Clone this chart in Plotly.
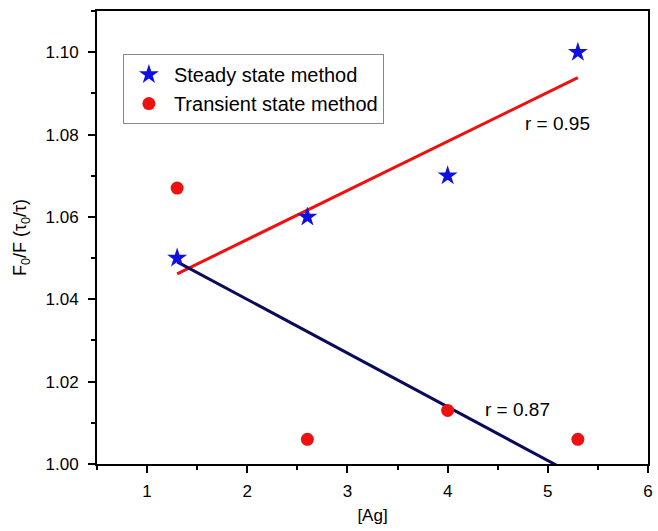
import numpy as np
import plotly.graph_objects as go

ag = [1.3, 2.6, 4.0, 5.3]
steady = [1.05, 1.06, 1.07, 1.10]
transient = [1.067, 1.006, 1.013, 1.006]
r_labels = ["r = 0.95", "r = 0.87"]

FONT = "Liberation Sans, Arial, sans-serif"

fig = go.Figure()

# linear fits
xs = np.array([min(ag), max(ag)])
ps = np.polyfit(ag, steady, 1)
pt = np.polyfit(ag, transient, 1)
fig.add_trace(go.Scatter(x=xs, y=np.polyval(ps, xs), mode="lines",
                         line=dict(color="#ee1111", width=3), showlegend=False))
fig.add_trace(go.Scatter(x=xs, y=np.polyval(pt, xs), mode="lines",
                         line=dict(color="#0a0a5a", width=3), showlegend=False))

fig.add_trace(go.Scatter(x=ag, y=steady, mode="markers", name="Steady state method",
                         marker=dict(symbol="star", size=15, color="#1010e0"),
                         cliponaxis=False))
fig.add_trace(go.Scatter(x=ag, y=transient, mode="markers", name="Transient state method",
                         marker=dict(symbol="circle", size=13, color="#ee1111"),
                         cliponaxis=False))

fig.add_annotation(x=5.1, y=1.0828, text=r_labels[0], showarrow=False,
                   font=dict(size=19, color="black", family=FONT))
fig.add_annotation(x=4.7, y=1.0133, text=r_labels[1], showarrow=False,
                   font=dict(size=19, color="black", family=FONT))

fig.update_layout(
    width=658, height=531,
    margin=dict(l=97, r=5, t=11, b=67),
    paper_bgcolor="white", plot_bgcolor="white",
    font=dict(family=FONT, size=17, color="black"),
    legend=dict(x=0.047, y=0.905, xanchor="left", yanchor="top",
                bordercolor="#888888", borderwidth=1, bgcolor="white",
                font=dict(size=20), itemwidth=40),
)
fig.update_xaxes(range=[0.5, 6], showline=True, linecolor="black", linewidth=2,
                 mirror=True, ticks="outside", ticklen=7, tickwidth=2, tickcolor="black",
                 tickvals=[1, 2, 3, 4, 5, 6], showgrid=False, zeroline=False,
                 ticklabelstandoff=4,
                 minor=dict(dtick=0.5, tick0=0.5, ticks="outside", ticklen=4, tickwidth=2, tickcolor="black"),
                 title=dict(text="[Ag]", font=dict(size=17), standoff=9))
fig.update_yaxes(range=[1.0, 1.11], showline=True, linecolor="black", linewidth=2,
                 mirror=True, ticks="outside", ticklen=7, tickwidth=2, tickcolor="black",
                 tickvals=[1.00, 1.02, 1.04, 1.06, 1.08, 1.10], tickformat=".2f",
                 showgrid=False, zeroline=False, ticklabelstandoff=6,
                 minor=dict(dtick=0.01, tick0=1.0, ticks="outside", ticklen=4, tickwidth=2, tickcolor="black"),
                 title=dict(text="F<sub>0</sub>/F (τ<sub>0</sub>/τ)", font=dict(size=18), standoff=14))

fig.write_html("out.html")
